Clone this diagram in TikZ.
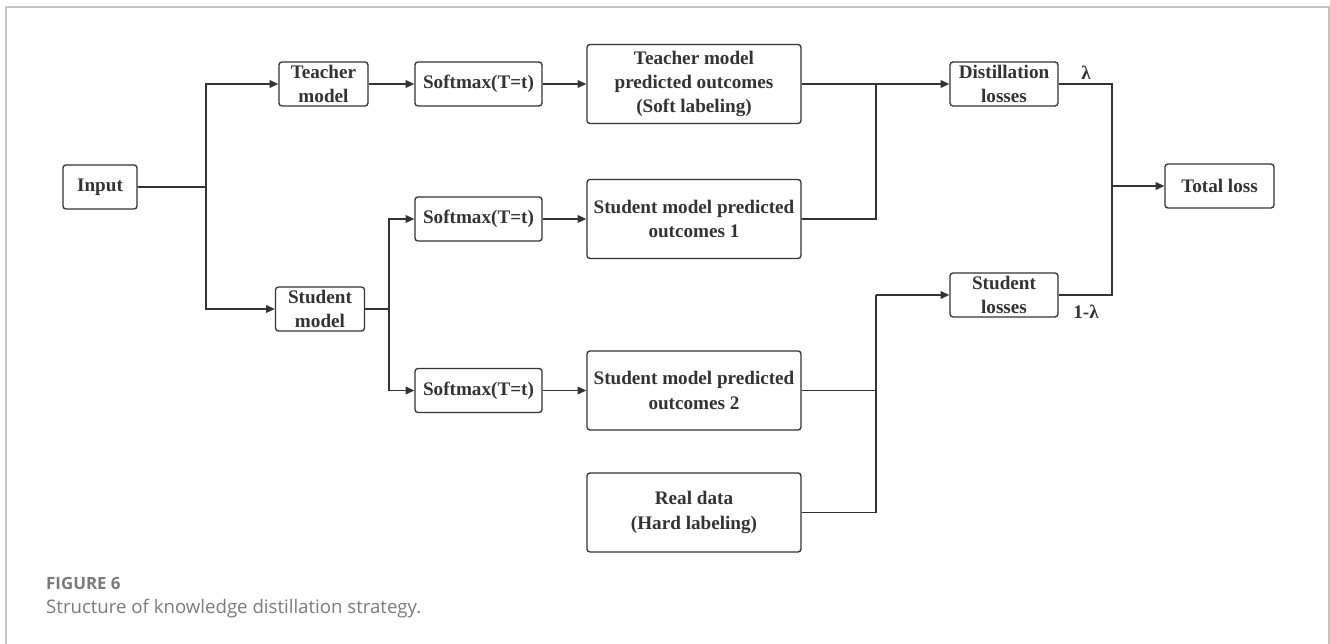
\documentclass[tikz,border=0pt]{standalone}
\usepackage{fontspec}
\setmainfont{Liberation Serif}
\newfontfamily\capfont{Open Sans}
\usetikzlibrary{arrows.meta}
\definecolor{dk}{HTML}{333333}
\definecolor{frm}{HTML}{C4C4C4}
\definecolor{capgray}{HTML}{7A7A7A}
\begin{document}
\begin{tikzpicture}[
	rbox/.style={draw=dk, line width=0.75pt, rounded corners=1.7pt, inner sep=0pt, align=center, text=dk, font=\fontsize{10.9}{13.9}\selectfont\bfseries},
	arr/.style={-{Triangle[length=5pt,width=4.4pt]}, line width=0.75pt, color=dk},
	ln/.style={line width=0.75pt, color=dk}]
			%					\draw[help lines, color=black!50, step=1cm,very thin](0,0)grid(26.6,12.88);
			\useasboundingbox (0,0) rectangle (26.6,12.88);
			\draw [line width=1pt, color=frm](0.12,0)--(0.12,12.74)--(26.58,12.74)--(26.58,0);
			
			\node (input) at (2,9.14)[rbox, minimum width=1.48cm, minimum height=0.88cm]{Input};
			\node (teacher) at (6.47,11.2)[rbox, minimum width=1.78cm, minimum height=0.88cm]{Teacher\\model};
			\node (student) at (6.4,6.7)[rbox, minimum width=1.78cm, minimum height=0.88cm]{Student\\model};
			
			\node (soft1) at (9.57,11.2)[rbox, minimum width=2.54cm, minimum height=0.88cm]{Softmax(T=t)};
			\node (soft2) at (9.57,8.5)[rbox, minimum width=2.54cm, minimum height=0.88cm]{Softmax(T=t)};
			\node (soft3) at (9.57,5.07)[rbox, minimum width=2.54cm, minimum height=0.88cm]{Softmax(T=t)};
			
			\node (tout) at (13.88,11.2)[rbox, minimum width=4.28cm, minimum height=1.58cm]{Teacher model\\predicted outcomes\\(Soft labeling)};
			\node (sout1) at (13.88,8.5)[rbox, minimum width=4.28cm, minimum height=1.58cm]{Student model predicted\\outcomes 1};
			\node (sout2) at (13.88,5.07)[rbox, minimum width=4.28cm, minimum height=1.58cm]{Student model predicted\\outcomes 2};
			\node (real) at (13.88,2.63)[rbox, minimum width=4.28cm, minimum height=1.58cm]{Real data\\(Hard labeling)};
			
			\node (dloss) at (20.08,11.2)[rbox, minimum width=2.16cm, minimum height=0.88cm]{Distillation\\losses};
			\node (sloss) at (20.08,6.98)[rbox, minimum width=2.16cm, minimum height=0.88cm]{Student\\losses};
			\node (total) at (24.39,9.16)[rbox, minimum width=2.18cm, minimum height=0.88cm]{Total loss};
			
			\coordinate (f1) at (4.12,9.14);
			\coordinate (f2) at (7.78,6.7);
			\coordinate (m1) at (17.52,11.2);
			\coordinate (m2) at (17.52,6.98);
			\coordinate (m3) at (22.24,9.16);
			
			\draw [ln](input.east)--(f1);
			\draw [arr](f1)|-(teacher.west);
			\draw [arr](f1)|-(student.west);
			\draw [arr](teacher)--(soft1);
			\draw [arr](soft1)--(tout);
			\draw [ln](student.east)--(f2);
			\draw [arr](f2)|-(soft2.west);
			\draw [arr](f2)|-(soft3.west);
			\draw [arr](soft2)--(sout1);
			\draw [arr](soft3)--(sout2);
			
			\draw [arr](tout.east)--(dloss.west);
			\draw [ln](sout1.east)-|(m1);
			\draw [ln](real.east)-|(m2);
			\draw [ln](sout2.east)-|(m2);
			\draw [arr](m2)--(sloss.west);
			
			\draw [ln](dloss.east)-|(m3);
			\draw [ln](sloss.east)-|(m3);
			\draw [arr](m3)--(total.west);
			\node (lam) at (21.72,11.42)[text=dk, font=\fontsize{10.9}{13.9}\selectfont\bfseries]{λ};
			\node (lam2) at (21.72,6.64)[text=dk, font=\fontsize{10.9}{13.9}\selectfont\bfseries]{1-λ};
			
			\node (fig) at (0.8,1.08)[anchor=base west, text=capgray, font=\capfont\fontsize{9.6}{11}\selectfont\bfseries]{FIGURE 6};
			\node (cap) at (0.8,0.6)[anchor=base west, text=capgray, font=\capfont\fontsize{10.6}{12}\selectfont]{Structure of knowledge distillation strategy.};
			
		\end{tikzpicture}
\end{document}
